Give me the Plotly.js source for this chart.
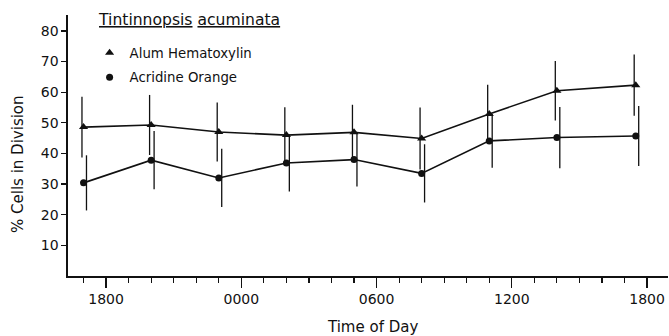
<!DOCTYPE html>
<html>
<head>
<meta charset="utf-8">
<script src="https://cdn.plot.ly/plotly-3.0.1.min.js"></script>
<style>html,body{margin:0;padding:0;background:#fff;}#chart{width:669px;height:336px;}</style>
</head>
<body>
<div id="chart"></div>
<script>
// Time of day in hours (18 = 1800, 24 = 0000, 42 = 1800 next day)
const times = [17, 20, 23, 26, 29, 32, 35, 38, 41.5];
const alum = [48.6, 49.3, 47.0, 46.0, 46.9, 44.9, 52.9, 60.5, 62.3];
const alumErr = [9.9, 9.8, 9.6, 9.1, 9.0, 10.1, 9.5, 9.7, 10.0];
const acridine = [30.4, 37.8, 32.0, 36.9, 38.0, 33.5, 44.1, 45.2, 45.7];
const acridineErr = [9.0, 9.5, 9.5, 9.3, 8.8, 9.5, 8.8, 10.0, 9.8];
const xTickVals = [18, 24, 30, 36, 42];
const xTickText = ["1800", "0000", "0600", "1200", "1800"];
const yTickVals = [10, 20, 30, 40, 50, 60, 70, 80];
const seriesNames = ["Alum Hematoxylin", "Acridine Orange"];
const chartTitle = ["Tintinnopsis", "acuminata"];
const xTitle = "Time of Day";
const yTitle = "% Cells in Division";

const FONT = "DejaVu Sans, sans-serif";
const alumBarShift = -0.07, acrBarShift = 0.13;

const traces = [
  { x: times.map(t => t + alumBarShift), y: alum, mode: "markers", marker: {opacity: 0, size: 2},
    error_y: {type: "data", array: alumErr, visible: true, color: "#111", thickness: 1.3, width: 0},
    showlegend: false, hoverinfo: "skip" },
  { x: times.map(t => t + acrBarShift), y: acridine, mode: "markers", marker: {opacity: 0, size: 2},
    error_y: {type: "data", array: acridineErr, visible: true, color: "#111", thickness: 1.3, width: 0},
    showlegend: false, hoverinfo: "skip" },
  { x: times, y: alum, mode: "lines+markers", name: seriesNames[0],
    line: {color: "#111", width: 1.6}, marker: {symbol: "triangle-up", size: 8, color: "#111"},
    showlegend: false },
  { x: times, y: acridine, mode: "lines+markers", name: seriesNames[1],
    line: {color: "#111", width: 1.6}, marker: {symbol: "circle", size: 7, color: "#111"},
    showlegend: false },
  { x: [null], y: [null], mode: "markers", name: seriesNames[0], legendgroup: "a",
    marker: {symbol: "triangle-up", size: 8, color: "#111"} },
  { x: [null], y: [null], mode: "markers", name: seriesNames[1], legendgroup: "b",
    marker: {symbol: "circle", size: 7, color: "#111"} }
];

const u = s => '<span style="text-decoration:underline">' + s + '</span>';

const layout = {
  width: 669, height: 336,
  margin: {l: 68, r: 1, t: 15, b: 60},
  paper_bgcolor: "#fff", plot_bgcolor: "#fff",
  font: {family: FONT, color: "#111", size: 14},
  showlegend: true,
  legend: {
    x: 0.036, y: 0.913, xanchor: "left", yanchor: "top",
    bgcolor: "rgba(0,0,0,0)", font: {size: 13.3, family: FONT, color: "#111"},
    tracegroupgap: 4, itemwidth: 30
  },
  annotations: [
    { text: u(chartTitle[0]) + " " + u(chartTitle[1]), xref: "paper", yref: "paper",
      x: 0.046, y: 0.981, xanchor: "left", yanchor: "middle", showarrow: false,
      font: {size: 15.6, family: FONT, color: "#111"} },
    { text: yTitle, xref: "paper", yref: "paper", textangle: -90,
      x: -0.083, y: 0.43, xanchor: "center", yanchor: "middle", showarrow: false,
      font: {size: 15, family: FONT, color: "#111"} },
    { text: xTitle, xref: "paper", yref: "paper",
      x: 0.508, y: -0.195, xanchor: "center", yanchor: "middle", showarrow: false,
      font: {size: 15, family: FONT, color: "#111"} }
  ],
  xaxis: {
    range: [16.31, 42.93], tickmode: "array", tickvals: xTickVals, ticktext: xTickText,
    ticks: "outside", ticklen: 10, tickwidth: 1.3, tickcolor: "#111",
    minor: {ticks: "outside", ticklen: 5, tickwidth: 1.2, tickcolor: "#111", tickmode: "linear", tick0: 0, dtick: 1, showgrid: false},
    showline: true, linewidth: 1.6, linecolor: "#111", showgrid: false, zeroline: false,
    tickfont: {size: 14, family: FONT}, automargin: false
  },
  yaxis: {
    range: [0, 85.2], tickmode: "array", tickvals: yTickVals,
    ticks: "outside", ticklen: 5, tickwidth: 1.3, tickcolor: "#111",
    showline: true, linewidth: 1.6, linecolor: "#111", showgrid: false, zeroline: false,
    tickfont: {size: 14, family: FONT}, automargin: false
  }
};

Plotly.newPlot("chart", traces, layout, {displayModeBar: false, staticPlot: true});
</script>
</body>
</html>
